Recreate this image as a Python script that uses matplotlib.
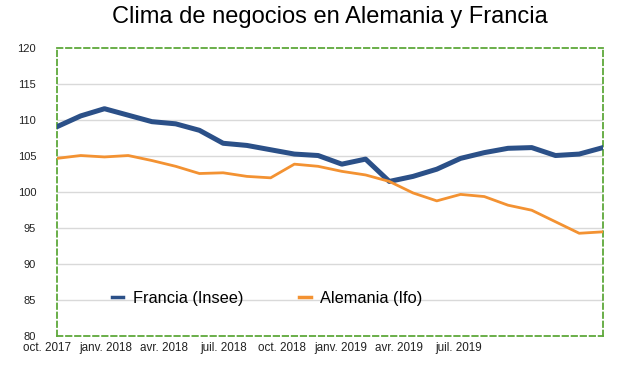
import numpy as np
import matplotlib
matplotlib.use("Agg")
import matplotlib.pyplot as plt
import matplotlib.transforms as mtransforms

# Data (monthly, oct. 2017 - sept. 2019)
francia = [109.0, 110.5, 111.5, 110.6, 109.7, 109.4, 108.5, 106.7, 106.4, 105.8,
           105.2, 105.0, 103.8, 104.5, 101.4, 102.1, 103.1, 104.6, 105.4, 106.0,
           106.1, 105.0, 105.2, 106.1]
alemania = [104.6, 105.0, 104.8, 105.0, 104.3, 103.5, 102.5, 102.6, 102.1, 101.9,
            103.8, 103.5, 102.8, 102.3, 101.4, 99.8, 98.7, 99.6, 99.3, 98.1,
            97.4, 95.8, 94.2, 94.4]
tick_labels = ["oct. 2017", "janv. 2018", "avr. 2018", "juil. 2018",
               "oct. 2018", "janv. 2019", "avr. 2019", "juil. 2019"]
y_ticks = [80, 85, 90, 95, 100, 105, 110, 115, 120]

plt.rcParams['font.family'] = ['Liberation Sans', 'DejaVu Sans']

fig = plt.figure(figsize=(6.29, 3.70), dpi=100)
ax = fig.add_axes([0.0906, 0.0932, 0.868, 0.7784])

x = np.arange(len(francia))
ax.plot(x, francia, color="#2b5088", linewidth=3.6, label="Francia (Insee)",
        solid_joinstyle="round", zorder=3)
ax.plot(x, alemania, color="#f39232", linewidth=2, label="Alemania (Ifo)", zorder=3)

ax.set_ylim(80, 120)
ax.set_yticks(y_ticks)
ax.tick_params(axis="y", length=0, pad=15, labelsize=8, labelcolor="#222222")

# x labels sit where the reference puts them (first one left of the frame),
# so they are drawn as texts rather than ticks
ax.set_xticks([])
ax.set_xlim(0, len(francia) - 1)
trans = mtransforms.blended_transform_factory(ax.transData, ax.transAxes)
for pos, lab in zip(np.linspace(-0.42, 16.9, len(tick_labels)), tick_labels):
    ax.text(pos, -0.022, lab, transform=trans, ha="center", va="top",
            fontsize=8.4, color="#222222", clip_on=False)

for yv in y_ticks[1:-1]:
    ax.axhline(yv, color="#d9d9d9", linewidth=1, zorder=1)

for s in ax.spines.values():
    s.set_color("#5ea83a")
    s.set_linestyle((0, (3, 2)))
    s.set_linewidth(1.3)

leg = ax.legend(loc="center", bbox_to_anchor=(0.385, 0.13), ncol=2,
                frameon=False, fontsize=11.8, handlelength=0.7, columnspacing=3.4,
                handletextpad=0.6)
for h in leg.get_lines():
    h.set_linewidth(2.5)

fig.suptitle("Clima de negocios en Alemania y Francia", y=0.985, fontsize=17,
             x=0.525)

fig.savefig("out.png", dpi=100)
